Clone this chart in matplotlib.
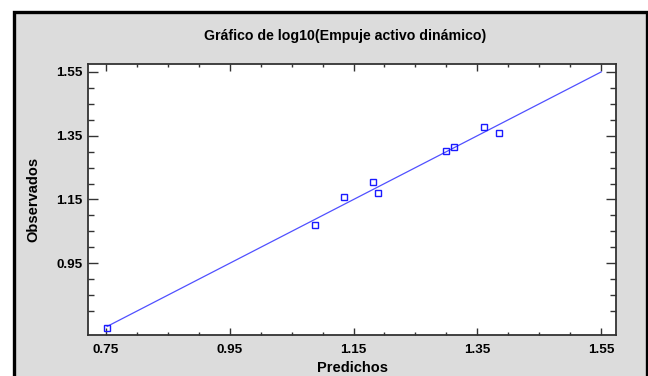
import numpy as np
import matplotlib
matplotlib.use("Agg")
import matplotlib.pyplot as plt
from matplotlib.patches import Rectangle
from matplotlib.ticker import FixedLocator

# predicted vs observed values, log10 scale
predichos = [0.752, 1.088, 1.134, 1.182, 1.189, 1.299, 1.313, 1.360, 1.385]
observados = [0.748, 1.069, 1.158, 1.205, 1.169, 1.302, 1.315, 1.377, 1.359]
linea = [0.752, 1.55]  # y = x reference line

x_ticks = [0.75, 0.95, 1.15, 1.35, 1.55]
y_ticks = [0.95, 1.15, 1.35, 1.55]

plt.rcParams["font.family"] = ["Liberation Sans", "DejaVu Sans"]
plt.rcParams["font.weight"] = "bold"

fig = plt.figure(figsize=(6.48, 3.76), dpi=100)
fig.patch.set_facecolor("white")

# gray panel with thick black frame (runs off the bottom edge)
panel = Rectangle((13.5 / 648, -0.05), (646.5 - 13.5) / 648, 1 - 12 / 376 + 0.05,
                  transform=fig.transFigure, facecolor="#dcdcdc",
                  edgecolor="black", linewidth=2.4, zorder=-10)
fig.add_artist(panel)

ax = fig.add_axes([88 / 648, 1 - 335 / 376, (616 - 88) / 648, (335 - 64.3) / 376])
ax.set_facecolor("white")
ax.set_zorder(1)

ax.plot(linea, linea, color="#5050ff", linewidth=0.9, zorder=2)
ax.plot(predichos, observados, linestyle="none", marker="s", markersize=3.7,
        markerfacecolor="none", markeredgecolor="#1a1aff", markeredgewidth=1.0, zorder=3)

ax.set_xlim(0.721, 1.574)
ax.set_ylim(0.725, 1.574)
ax.xaxis.set_major_locator(FixedLocator(x_ticks))
ax.yaxis.set_major_locator(FixedLocator(y_ticks))
ax.xaxis.set_minor_locator(FixedLocator(np.arange(0.80, 1.55, 0.05)))
ax.yaxis.set_minor_locator(FixedLocator(np.arange(0.80, 1.55, 0.05)))
ax.set_xticklabels([f"{t:.2f}" for t in x_ticks])
ax.set_yticklabels([f"{t:.2f}" for t in y_ticks])

ax.tick_params(axis="both", which="both", direction="in", top=True, right=True,
               colors="#333333", labelcolor="black", labelsize=9.7, width=1.0)
ax.tick_params(axis="x", which="major", length=5, pad=6.8)
ax.tick_params(axis="x", which="minor", length=2.5)
ax.tick_params(axis="y", which="major", length=7.5, pad=4)
ax.tick_params(axis="y", which="minor", length=4.5)
for s in ax.spines.values():
    s.set_color("#333333")
    s.set_linewidth(1.3)

ax.set_xlabel("Predichos", fontsize=10.5, fontweight="bold", labelpad=3.5)
ax.set_ylabel("Observados", fontsize=10.5, fontweight="bold", labelpad=11)
fig.text(345 / 648, 1 - 36 / 376, "Gráfico de log10(Empuje activo dinámico)",
         ha="center", va="center", fontsize=10.2, fontweight="bold")

fig.savefig("out.png", dpi=100)
